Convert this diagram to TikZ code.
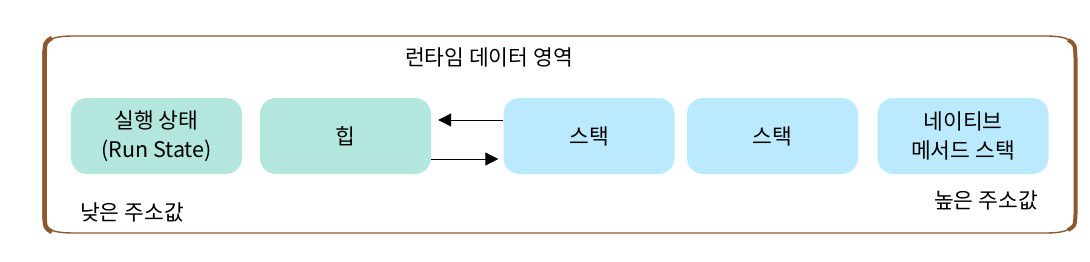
\documentclass[tikz,border=0pt]{standalone}
\usepackage{fontspec}
\setmainfont{Noto Sans CJK KR}
\usetikzlibrary{arrows.meta}
\definecolor{boxgreen}{RGB}{179,230,220}
\definecolor{boxblue}{RGB}{187,233,254}
\definecolor{framebrown}{RGB}{140,88,48}
\tikzset{
  areabox/.style={rounded corners=16pt, minimum width=171pt, minimum height=76pt, inner sep=0pt, align=center, font=\fontsize{21.5pt}{29pt}\selectfont},
  greenbox/.style={areabox, fill=boxgreen},
  bluebox/.style={areabox, fill=boxblue},
  lbl/.style={font=\fontsize{21.5pt}{29pt}\selectfont, inner sep=0pt},
  flow/.style={line width=1pt, -{Triangle[length=13pt,width=13pt]}}
}
\begin{document}
\begin{tikzpicture}[x=1pt,y=-1pt]
\useasboundingbox (0,0) rectangle (1090,262);
% frame
\draw[framebrown, line width=1.4pt] (75,36) -- (1045,36) .. controls (1068,36) and (1076,40) .. (1076,56) -- (1076,214) .. controls (1076,229) and (1068,233) .. (1045,233) -- (75,233) .. controls (50,233) and (43,229) .. (43,214) -- (43,56) .. controls (43,40) and (50,36) .. (75,36) -- cycle;
\draw[framebrown, line width=4.5pt] (52,38) .. controls (45,42) .. (44.5,56) -- (44.5,214) .. controls (45,228) .. (52,232);
\draw[framebrown, line width=4pt] (1068,40) .. controls (1075,44) .. (1075.5,58) -- (1075.5,214) .. controls (1075,226) .. (1068,230);
% title
\node[lbl] (title) at (489,57) {런타임 데이터 영역};
% boxes
\node[greenbox] (run) at (156.5,136) {실행 상태\\(Run State)};
\node[greenbox] (heap) at (345.5,136) {힙};
\node[bluebox] (stackA) at (589,136) {스택};
\node[bluebox] (stackB) at (772.5,136) {스택};
\node[bluebox] (native) at (963,136) {네이티브\\메서드 스택};
% arrows
\draw[flow] ([yshift=16pt]stackA.west) -- ([xshift=7pt,yshift=16pt]heap.east);
\draw[flow] ([yshift=-23pt]heap.east) -- ([xshift=-5pt,yshift=-23pt]stackA.west);
% address labels
\node[lbl, anchor=west] (low) at (80,212) {낮은 주소값};
\node[lbl, anchor=east] (high) at (1038,200) {높은 주소값};
\end{tikzpicture}
\end{document}
